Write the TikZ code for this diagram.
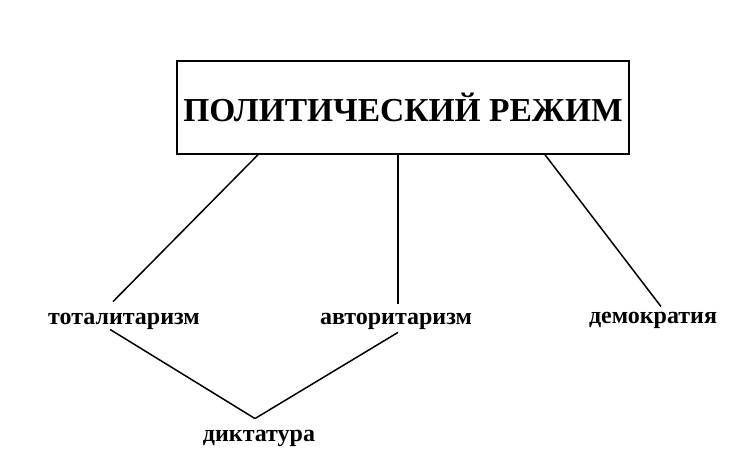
\documentclass[tikz,border=0pt]{standalone}
\usepackage{fontspec}
\setmainfont{Liberation Serif}[BoldFont={Liberation Serif Bold}]
\usetikzlibrary{calc}

\tikzset{
    regime/.style={draw, line width=1.5pt, minimum width=452pt,
        minimum height=93pt, font=\fontsize{33.5}{36}\selectfont\bfseries},
    kind/.style={inner sep=4pt, font=\fontsize{24}{26}\selectfont\bfseries},
    link/.style={line width=1.5pt}
}

\begin{document}
\begin{tikzpicture}[x=1pt, y=-1pt]
    \useasboundingbox (0,0) rectangle (744,476);
    \begin{scope} % Regime and its kinds
        \node[regime] (regime) at (403,107.5) {ПОЛИТИЧЕСКИЙ РЕЖИМ};
        \node[kind] (total) at (124,321) {тоталитаризм};
        \node[kind] (avtor) at (396,321) {авторитаризм};
        \node[kind] (demo) at (653,320) {демократия};
        \node[kind] (dikt) at (259,438) {диктатура};
    \end{scope}
    \begin{scope}[link] % Connectors
        \draw ([xshift=-145pt]regime.south) -- ([xshift=-11pt,yshift=7pt]total.north);
        \draw ([xshift=-5pt]regime.south) -- ([xshift=2pt,yshift=5pt]avtor.north);
        \draw ([xshift=142pt]regime.south) -- ([xshift=8pt,yshift=1pt]demo.north);
        \draw ([xshift=-14pt,yshift=4pt]total.south) -- ([xshift=-4pt,yshift=7pt]dikt.north);
        \draw ([xshift=2pt,yshift=1pt]avtor.south) -- ([xshift=-4pt,yshift=7pt]dikt.north);
    \end{scope}
\end{tikzpicture}
\end{document}
